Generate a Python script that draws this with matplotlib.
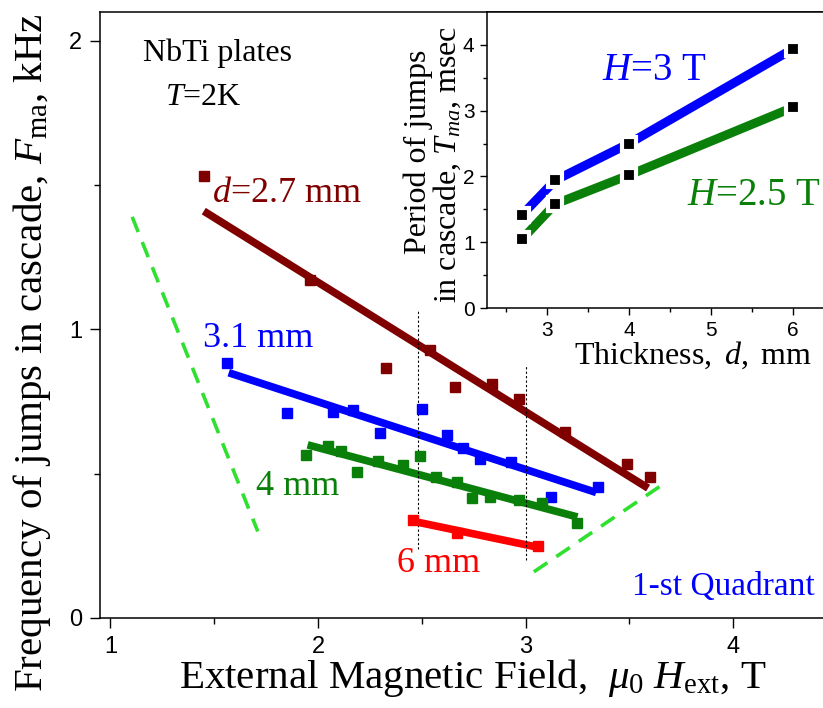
import matplotlib
matplotlib.use('Agg')
import matplotlib.pyplot as plt
import numpy as np

plt.rcParams['font.family'] = ['Liberation Sans', 'DejaVu Sans']
plt.rcParams['mathtext.fontset'] = 'custom'
plt.rcParams['mathtext.rm'] = 'Liberation Serif'
plt.rcParams['mathtext.it'] = 'Liberation Serif:italic'

# jump frequency vs field, one set per plate thickness
x27 = [1.45, 1.96, 2.33, 2.54, 2.66, 2.84, 2.97, 3.19, 3.49, 3.60]
y27 = [1.53, 1.17, 0.865, 0.93, 0.80, 0.81, 0.76, 0.645, 0.535, 0.49]
x31 = [1.56, 1.85, 2.07, 2.17, 2.30, 2.50, 2.62, 2.70, 2.78, 2.93, 3.12, 3.35]
y31 = [0.885, 0.71, 0.715, 0.72, 0.64, 0.725, 0.635, 0.59, 0.55, 0.54, 0.42, 0.455]
x4 = [1.94, 2.05, 2.11, 2.19, 2.29, 2.41, 2.49, 2.57, 2.67, 2.74, 2.83, 2.97, 3.08, 3.25]
y4 = [0.565, 0.595, 0.58, 0.505, 0.545, 0.53, 0.56, 0.49, 0.47, 0.415, 0.42, 0.41, 0.40, 0.33]
x6 = [2.46, 2.67, 3.06]
y6 = [0.34, 0.295, 0.25]

# linear fits (end points)
fit27_x = [1.45, 3.59]
fit27_y = [1.41, 0.45]
fit31_x = [1.57, 3.34]
fit31_y = [0.85, 0.435]
fit4_x = [1.95, 3.25]
fit4_y = [0.60, 0.35]
fit6_x = [2.46, 3.06]
fit6_y = [0.335, 0.245]

# guide lines
guideL_x = [1.105, 1.71]
guideL_y = [1.39, 0.30]
guideR_x = [3.04, 3.665]
guideR_y = [0.16, 0.465]
vline_x = [2.48, 3.0]
vline_lo = [0.24, 0.20]
vline_hi = [1.07, 0.875]

# inset: period vs thickness
thick = [2.7, 3.1, 4.0, 6.0]
per_3T = [1.42, 1.94, 2.50, 3.94]
per_25T = [1.05, 1.58, 2.02, 3.05]

c_dred = '#800000'
c_blue = '#0000ff'
c_green = '#0a800a'
c_red = '#ff0000'
c_lime = '#2fe02f'
serif = 'Liberation Serif'

W, H = 823, 708
fig = plt.figure(figsize=(W / 100, H / 100), dpi=100)

def px(x0, y0, x1, y1):
    return [x0 / W, 1 - y1 / H, (x1 - x0) / W, (y1 - y0) / H]

ax = fig.add_axes(px(100, 12, 837, 618))
ax.set_xlim(0.95, 4.5)
ax.set_ylim(0, 2.1)

for xs, ys, fx, fy, c in [(x27, y27, fit27_x, fit27_y, c_dred),
                          (x31, y31, fit31_x, fit31_y, c_blue),
                          (x4, y4, fit4_x, fit4_y, c_green),
                          (x6, y6, fit6_x, fit6_y, c_red)]:
    ax.plot(fx, fy, color=c, lw=5.5, solid_capstyle='butt', zorder=2)
    ax.plot(xs, ys, 's', color=c, ms=6.5, zorder=3)

ax.plot(guideL_x, guideL_y, color=c_lime, lw=2.6, dashes=(4.5, 3))
ax.plot(guideR_x, guideR_y, color=c_lime, lw=2.6, dashes=(4.5, 3))
for vx, lo, hi in zip(vline_x, vline_lo, vline_hi):
    ax.plot([vx, vx], [lo, hi], color='k', lw=0.8, dashes=(2, 2))

ax.set_xticks([1, 2, 3, 4])
ax.set_xticks([1.5, 2.5, 3.5], minor=True)
ax.set_yticks([0, 1, 2])
ax.set_yticks([0.5, 1.5], minor=True)
ax.tick_params(which='major', length=7, width=1, labelsize=17, pad=6)
ax.tick_params(which='minor', length=4, width=1)
ax.spines['right'].set_visible(False)
for s in ax.spines.values():
    s.set_linewidth(1.1)

ax.text(1.159, 1.931, 'NbTi plates', family=serif, fontsize=23, va='baseline')
ax.text(1.265, 1.779, '$T$=2K', family=serif, fontsize=23, va='baseline')
ax.text(1.491, 1.44, '$d$=2.7 mm', family=serif, fontsize=26, color=c_dred, va='baseline')
ax.text(1.448, 0.938, '3.1 mm', family=serif, fontsize=26, color=c_blue, va='baseline')
ax.text(1.703, 0.426, '4 mm', family=serif, fontsize=26, color=c_green, va='baseline')
ax.text(2.382, 0.159, '6 mm', family=serif, fontsize=26, color=c_red, va='baseline')
ax.text(3.513, 0.08, '1-st Quadrant', family=serif, fontsize=24, color=c_blue, va='baseline')

fig.text(473 / W, 1 - 688 / H, r'External Magnetic Field,  $\mu_0\ H_{\rm ext}$, T',
         family=serif, fontsize=29.5, ha='center', va='baseline')
fig.text(32 / W, 1 - 352 / H, r'Frequency of jumps in cascade, $F_{\rm ma}$, kHz',
         family=serif, fontsize=29.5, ha='center', va='center', rotation=90)

# inset
ins = fig.add_axes(px(487, 12, 834, 308))
ins.set_facecolor('white')
ins.set_xlim(2.27, 6.5)
ins.set_ylim(0, 4.5)
ins.plot(thick, per_3T, color=c_blue, lw=6.5, solid_capstyle='butt', zorder=2)
ins.plot(thick, per_25T, color=c_green, lw=6.5, solid_capstyle='butt', zorder=2)
ins.plot(thick, per_3T, 's', color='k', ms=10.5, mec='white', mew=3, zorder=3)
ins.plot(thick, per_25T, 's', color='k', ms=10.5, mec='white', mew=3, zorder=3)
ins.set_xticks([3, 4, 5, 6])
ins.set_xticks([2.5, 3.5, 4.5, 5.5, 6.5], minor=True)
ins.set_yticks([0, 1, 2, 3, 4])
ins.set_yticks([0.5, 1.5, 2.5, 3.5], minor=True)
ins.tick_params(which='major', length=5, width=1, labelsize=15, pad=4)
ins.tick_params(which='minor', length=3, width=1)
ins.spines['right'].set_visible(False)
for s in ins.spines.values():
    s.set_linewidth(1.1)
ins.text(3.67, 3.465, '$H$=3 T', family=serif, fontsize=28, color=c_blue, va='baseline')
ins.text(4.707, 1.565, '$H$=2.5 T', family=serif, fontsize=28, color=c_green, va='baseline')

fig.text(693 / W, 1 - 364 / H, '$\\mathrm{Thickness,}\\ d\\mathrm{,\\ mm}$',
         family=serif, fontsize=23, ha='center', va='baseline')
fig.text(418 / W, 1 - 152 / H, 'Period of jumps', family=serif, fontsize=23,
         ha='center', va='center', rotation=90)
fig.text(447 / W, 1 - 164 / H, 'in cascade, $T_{ma}$, msec', family=serif, fontsize=23,
         ha='center', va='center', rotation=90)

fig.savefig('out.png', dpi=100)
